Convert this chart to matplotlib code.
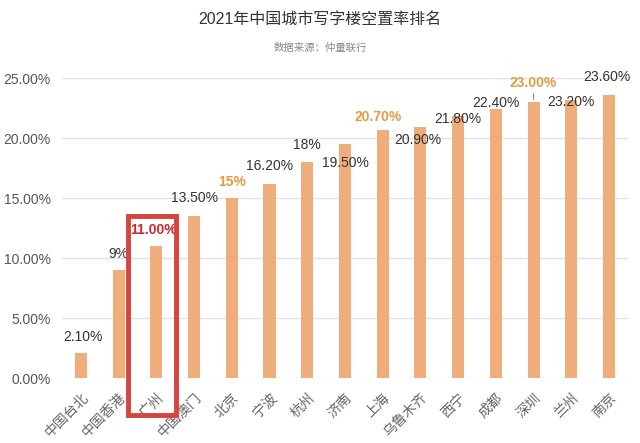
import matplotlib
matplotlib.use("Agg")
import matplotlib.pyplot as plt
from matplotlib.patches import Rectangle
import matplotlib.ticker as ticker

# ── data ─────────────────────────────────────────────────────────────────────
cities = ["中国台北", "中国香港", "广州", "中国澳门", "北京", "宁波", "杭州", "济南",
          "上海", "乌鲁木齐", "西宁", "成都", "深圳", "兰州", "南京"]
vacancy = [2.1, 9.0, 11.0, 13.5, 15.0, 16.2, 18.0, 19.5,
           20.7, 20.9, 21.8, 22.4, 23.0, 23.2, 23.6]
value_labels = ["2.10%", "9%", "11.00%", "13.50%", "15%", "16.20%", "18%", "19.50%",
                "20.70%", "20.90%", "21.80%", "22.40%", "23.00%", "23.20%", "23.60%"]
y_ticks = [0, 5, 10, 15, 20, 25]

# ── style ────────────────────────────────────────────────────────────────────
plt.rcParams["font.family"] = ["Liberation Sans", "Noto Sans CJK SC"]
BAR_C = "#EFAD7C"
ORANGE = "#E39B45"
RED = "#C8282C"
GREY = "#555555"

highlight_orange = {4, 8, 12}
highlight_red = 2
# label offsets (pixels) relative to bar top
offsets = [(2, 16), (0, 16), (-3, 16), (0, 18), (0, 16), (0, 18), (0, 17), (0, -19),
           (-5, 13), (-3, -13), (0, -3), (0, 6), (0, 19), (0, -2), (-2, 18)]

fig = plt.figure(figsize=(6.4, 4.43), dpi=100)
ax = fig.add_axes([0.097, 0.1467, 0.884, 0.677])

x = list(range(len(cities)))
ax.bar(x, vacancy, width=0.32, color=BAR_C, zorder=2)

ax.set_xlim(-0.5, len(cities) - 0.5)
ax.set_ylim(0, 25)
ax.set_yticks(y_ticks)
ax.yaxis.set_major_formatter(ticker.FuncFormatter(lambda v, p: f"{v:.2f}%"))
ax.grid(axis="y", color="#E3E3E3", lw=1, zorder=0)
for s in ax.spines.values():
    s.set_visible(False)
ax.tick_params(axis="y", length=0, labelsize=10, labelcolor=GREY, pad=8)
ax.tick_params(axis="x", length=0, pad=9)
ax.set_xticks(x)
ax.set_xticklabels(cities, rotation=45, ha="right", rotation_mode="anchor",
                   fontsize=10, color="#666666")

for i, (v, lab) in enumerate(zip(vacancy, value_labels)):
    color, weight = "#333333", "normal"
    if i in highlight_orange:
        color, weight = ORANGE, "bold"
    if i == highlight_red:
        color, weight = RED, "bold"
    dx, dy = offsets[i]
    ax.annotate(lab, (i, v), xytext=(dx, dy), textcoords="offset pixels",
                ha="center", va="center", fontsize=10, color=color,
                fontweight=weight, zorder=4)

# leader line for 23.00%
ax.annotate("", (12, vacancy[12]), xytext=(0, 11), textcoords="offset pixels",
            arrowprops=dict(arrowstyle="-", color="#888888", lw=0.8))

# red highlight box around 广州
box_bottom = -3.1
box_top = vacancy[highlight_red] + 2.5
rect = Rectangle((highlight_red - 0.75, box_bottom), 1.27, box_top - box_bottom,
                 fill=False, edgecolor="#D8433B", lw=3.5, clip_on=False, zorder=5)
ax.add_patch(rect)

fig.text(0.5, 0.957, "2021年中国城市写字楼空置率排名", ha="center", va="center",
         fontsize=11.5, color="#333333")
fig.text(0.5, 0.893, "数据来源：仲量联行", ha="center", va="center",
         fontsize=7.5, color="#888888")

fig.savefig("out.png", dpi=100, facecolor="white")
